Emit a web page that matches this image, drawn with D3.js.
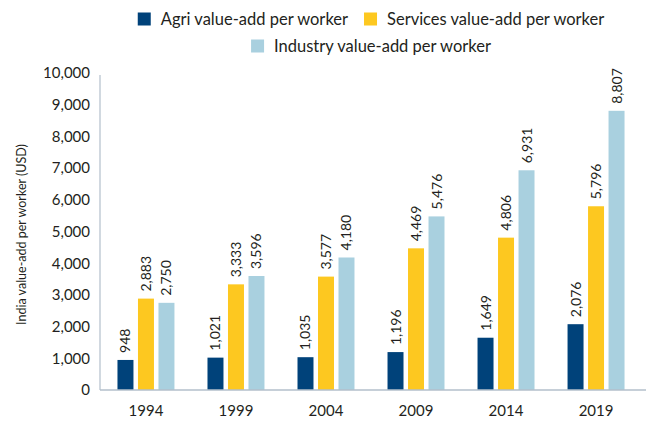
<!DOCTYPE html>
<html>
<head>
<meta charset="utf-8">
<script src="https://cdn.jsdelivr.net/npm/d3@7/dist/d3.min.js"></script>
<style>
  body { margin: 0; background: #fff; }
  svg text { font-family: Lato, "Open Sans", sans-serif; fill: #231f20; }
</style>
</head>
<body>
<div id="chart"></div>
<script>
// data
const years = ['1994', '1999', '2004', '2009', '2014', '2019'];
const seriesNames = ['Agri value-add per worker', 'Services value-add per worker', 'Industry value-add per worker'];
const agri = [948, 1021, 1035, 1196, 1649, 2076];
const services = [2883, 3333, 3577, 4469, 4806, 5796];
const industry = [2750, 3596, 4180, 5476, 6931, 8807];
const colors = ['#00427a', '#fdc820', '#a9d0df'];
const yTicks = [0, 1000, 2000, 3000, 4000, 5000, 6000, 7000, 8000, 9000, 10000];

const width = 646, height = 421;
const margin = {top: 73, right: 5, bottom: 31, left: 100};

const rows = years.map((y, i) => ({year: y, values: [agri[i], services[i], industry[i]]}));

const svg = d3.select('#chart').append('svg')
    .attr('width', width)
    .attr('height', height);

const x0 = d3.scaleBand()
    .domain(years)
    .range([101, 641])
    .paddingInner(0.367)
    .paddingOuter(0.183);

const x1 = d3.scaleBand()
    .domain(d3.range(3))
    .range([0, x0.bandwidth()])
    .paddingInner(0.22);

const y = d3.scaleLinear()
    .domain([0, 10000])
    .range([height - margin.bottom, margin.top]);

// y axis
const yAxis = svg.append('g')
    .attr('transform', `translate(${margin.left},0)`)
    .call(d3.axisLeft(y).tickValues(yTicks).tickFormat(d3.format(',')).tickSize(0).tickPadding(10));
yAxis.select('.domain').remove();
yAxis.selectAll('text').style('font-size', '15px');

// x axis
const xAxis = svg.append('g')
    .attr('transform', `translate(0,${y(0)})`)
    .call(d3.axisBottom(x0).tickSize(0).tickPadding(15));
xAxis.select('.domain').remove();
xAxis.selectAll('text').style('font-size', '15px');

// bars
const groups = svg.append('g').selectAll('g')
    .data(rows)
    .join('g')
    .attr('transform', d => `translate(${x0(d.year)},0)`);

groups.selectAll('rect')
    .data(d => d.values.map((v, k) => ({k, v})))
    .join('rect')
    .attr('x', d => x1(d.k))
    .attr('y', d => y(d.v))
    .attr('width', x1.bandwidth())
    .attr('height', d => y(0) - y(d.v))
    .attr('fill', d => colors[d.k]);

// value labels, rotated
groups.selectAll('text.val')
    .data(d => d.values.map((v, k) => ({k, v})))
    .join('text')
    .attr('class', 'val')
    .attr('transform', d => `translate(${x1(d.k) + x1.bandwidth() / 2 + 5},${y(d.v) - 7}) rotate(-90)`)
    .style('font-size', '14px')
    .text(d => d3.format(',')(d.v));

// axis lines
svg.append('line')
    .attr('x1', margin.left).attr('x2', margin.left)
    .attr('y1', y(10000) + 2).attr('y2', y(0))
    .attr('stroke', '#b3bfcb').attr('stroke-width', 1.2);
svg.append('line')
    .attr('x1', margin.left).attr('x2', width)
    .attr('y1', y(0)).attr('y2', y(0))
    .attr('stroke', '#b3bfcb').attr('stroke-width', 1.5);

// y title
svg.append('text')
    .attr('transform', `translate(26,${(y(0) + y(10000)) / 2 + 3}) rotate(-90)`)
    .attr('text-anchor', 'middle')
    .style('font-size', '12.5px')
    .text('India value-add per worker (USD)');

// legend
const legendRows = [[0, 1], [2]];
const cx = (x0.range()[0] + x0.range()[1]) / 2;
legendRows.forEach((row, r) => {
    const g = svg.append('g');
    let off = 0;
    row.forEach(k => {
        const item = g.append('g').attr('transform', `translate(${off},0)`);
        item.append('rect')
            .attr('y', -6.5)
            .attr('width', 13).attr('height', 13)
            .attr('fill', colors[k]);
        const t = item.append('text')
            .attr('x', 23)
            .attr('dy', '0.35em')
            .style('font-size', '16.5px')
            .text(seriesNames[k]);
        off += 23 + t.node().getComputedTextLength() + 16;
    });
    off -= 16;
    g.attr('transform', `translate(${cx - off / 2},${19 + r * 27})`);
});
</script>
</body>
</html>
